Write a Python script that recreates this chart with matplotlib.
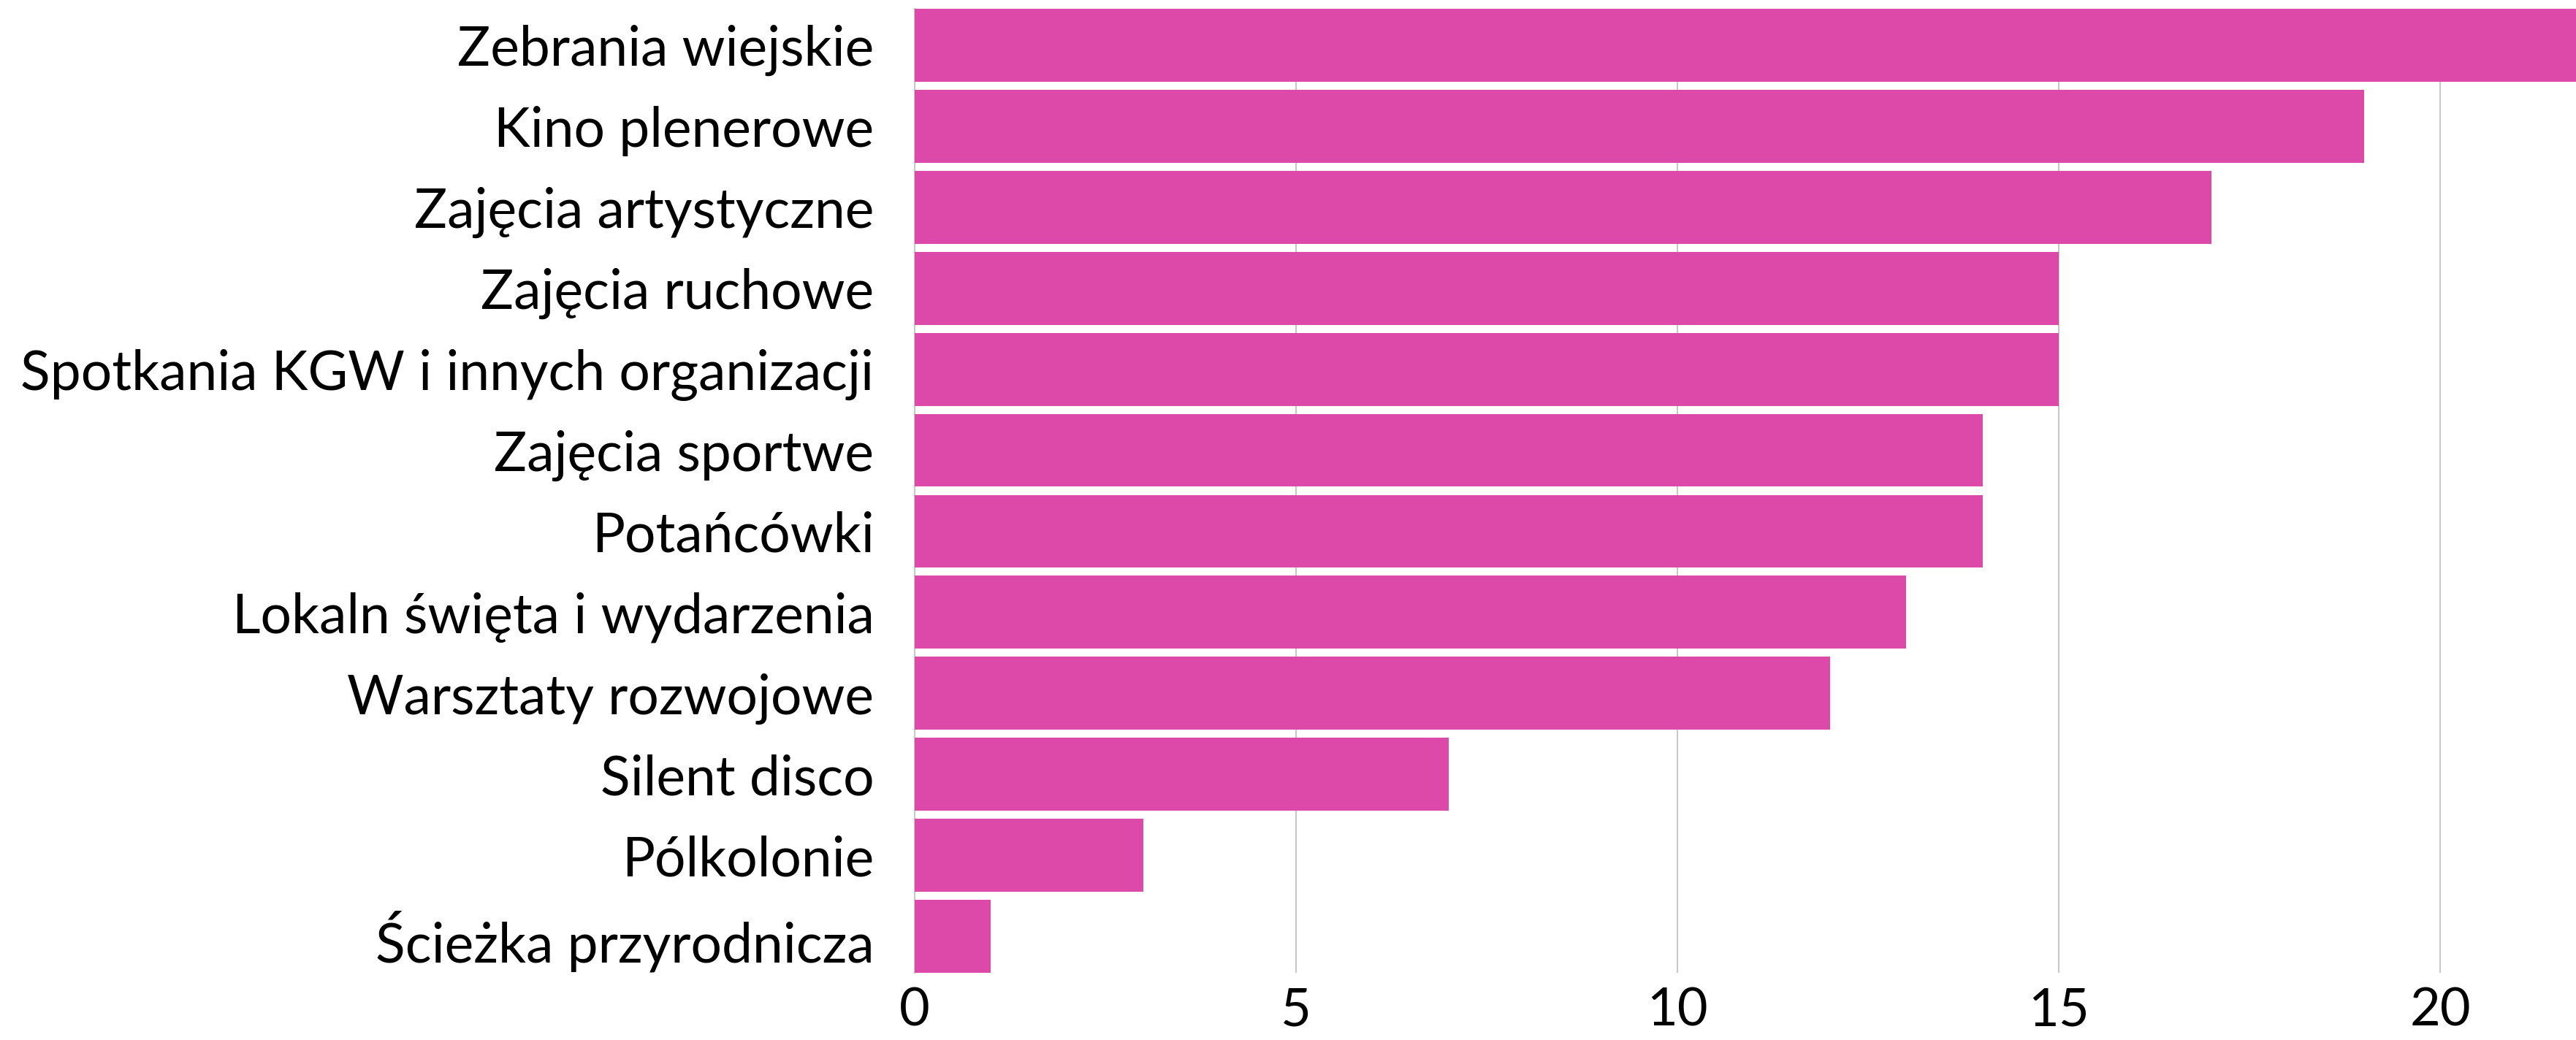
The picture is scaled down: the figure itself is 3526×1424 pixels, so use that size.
import matplotlib.pyplot as plt

# dane
kategorie = [
    "Zebrania wiejskie",
    "Kino plenerowe",
    "Zajęcia artystyczne",
    "Zajęcia ruchowe",
    "Spotkania KGW i innych organizacji",
    "Zajęcia sportwe",
    "Potańcówki",
    "Lokaln święta i wydarzenia",
    "Warsztaty rozwojowe",
    "Silent disco",
    "Pólkolonie",
    "Ścieżka przyrodnicza",
]
wartosci = [22, 19, 17, 15, 15, 14, 14, 13, 12, 7, 3, 1]
ticki = [0, 5, 10, 15, 20]

plt.rcParams['font.family'] = ['Lato', 'DejaVu Sans']

fig = plt.figure(figsize=(35.26, 14.24), dpi=100)
ax = fig.add_axes([1252 / 3526, 92 / 1424, 1 - 1252 / 3526, 1320 / 1424])

pozycje = list(range(len(kategorie)))
ax.barh(pozycje, wartosci, height=0.9, color='#DC49A8', zorder=3)

ax.set_ylim(11.45, -0.45)
ax.set_xlim(0, 21.78)
ax.set_yticks(pozycje)
ax.set_yticklabels(kategorie, fontsize=54)
ax.set_xticks(ticki)
ax.set_xticklabels([str(t) for t in ticki], fontsize=52)
ax.tick_params(axis='y', length=0, pad=40)
ax.tick_params(axis='x', length=0, pad=14)

ax.grid(axis='x', color='#c8c8c8', linewidth=1.5, zorder=0)
for s in ['top', 'right', 'bottom']:
    ax.spines[s].set_visible(False)
ax.spines['left'].set_color('#c8c8c8')
ax.spines['left'].set_linewidth(1.5)

plt.savefig('out.png')
